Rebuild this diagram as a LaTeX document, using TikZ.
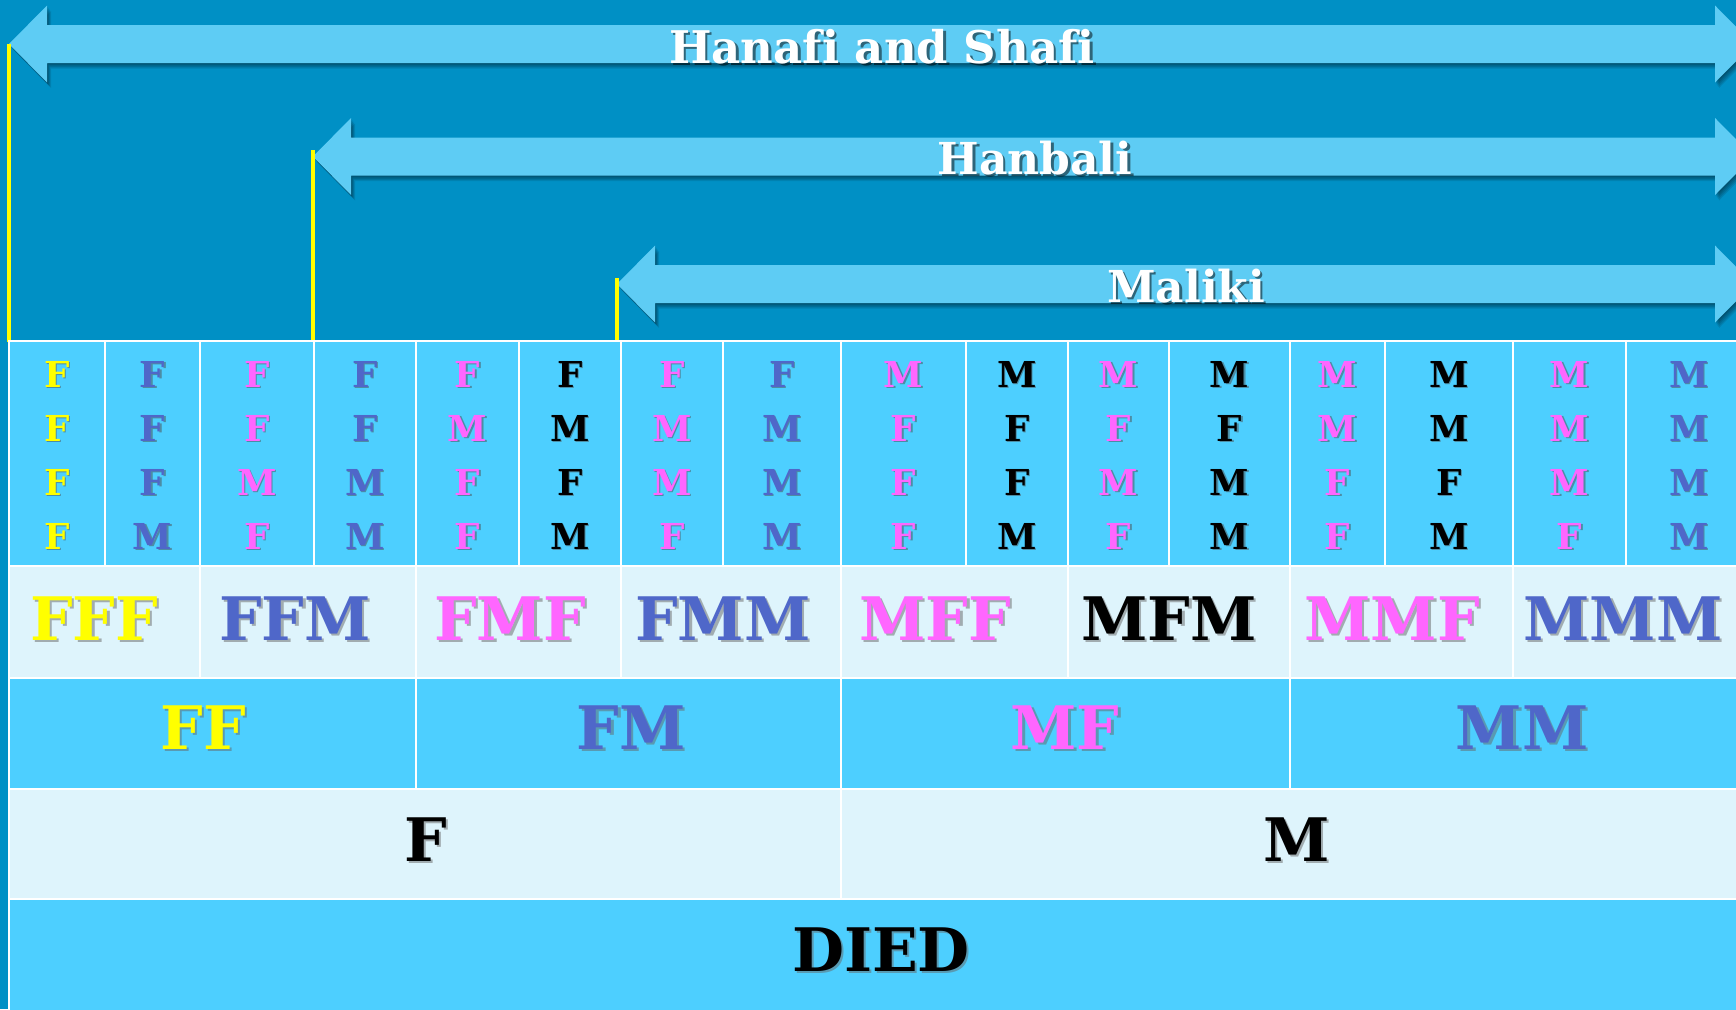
\documentclass[tikz,border=0pt]{standalone}
\usepackage{fontspec}
\setmainfont{DejaVu Serif}[Ligatures=NoCommon]
\definecolor{bgblue}{RGB}{0,144,197}
\definecolor{arrowblue}{RGB}{94,204,244}
\definecolor{cellcyan}{RGB}{77,207,255}
\definecolor{celllight}{RGB}{222,244,252}
\definecolor{lblue}{RGB}{79,103,201}
\definecolor{lmag}{RGB}{255,102,255}
\definecolor{lyel}{RGB}{255,255,0}
\tikzset{
  cellA/.style={fill=cellcyan, draw=white, line width=2.5pt},
  cellB/.style={fill=celllight, draw=white, line width=2.5pt},
  yline/.style={draw=lyel, line width=3.5pt},
  txt/.style={anchor=base, inner sep=0pt, font=\bfseries},
}
% #1 style, #2 tip x, #3 centre y
\newcommand\arrowfill[3]{%
  \fill[#1] ({#2},{#3}) -- ({#2+38},{#3-38.5}) -- ({#2+38},{#3-19}) -- (1715,{#3-19}) -- (1715,{#3-38.5}) -- (1753,{#3}) -- (1715,{#3+38.5}) -- (1715,{#3+19}) -- ({#2+38},{#3+19}) -- ({#2+38},{#3+38.5}) -- cycle;}
\newcommand\schoolarrow[2]{%
  \foreach \o in {1,...,5}{\arrowfill{black,opacity=0.1,shift={(0.8*\o,1.1*\o)}}{#1}{#2}}%
  \arrowfill{arrowblue}{#1}{#2}}
% #1 name, #2 x, #3 baseline y, #4 size, #5 colour, #6 text, #7 shadow offset, #8 shadow colour
\newcommand\stxt[8]{%
  \node[txt, font=\fontsize{#4}{#4}\selectfont\bfseries, text=#8, opacity=.5] (#1s) at ({#2+#7},{#3+#7}) {#6};
  \node[txt, font=\fontsize{#4}{#4}\selectfont\bfseries, text=#5] (#1) at (#2,#3) {#6};}
\begin{document}
\begin{tikzpicture}[x=1pt,y=-1pt]
\useasboundingbox (0,0) rectangle (1736,1009);
\clip (0,0) rectangle (1736,1009);
\fill[bgblue] (0,0) rectangle (1736,1009);

% arrows
\schoolarrow{9}{44}
\schoolarrow{313}{156.5}
\schoolarrow{617}{284}
\coordinate (tipA) at (9,44);
\coordinate (tipB) at (313,150);
\coordinate (tipC) at (617,278);
\coordinate (topA) at (9,342);
\coordinate (topB) at (313,342);
\coordinate (topC) at (617,344);
\draw[yline] (tipA) -- (topA);
\draw[yline] (tipB) -- (topB);
\draw[yline] (tipC) -- (topC);

\stxt{hs}{882}{63}{45}{white}{Hanafi and Shafi}{2.5}{black}
\stxt{hb}{1035}{174}{44}{white}{Hanbali}{2.5}{black}
\stxt{ml}{1186}{302}{44}{white}{Maliki}{2.5}{black}

% table rows
\foreach \a/\b in {9/105,105/200,200/314,314/416,416/519,519/621,621/723,723/841,841/966,966/1068,1068/1169,1169/1290,1290/1385,1385/1513,1513/1626,1626/1760}
  \draw[cellA] (\a,341) rectangle (\b,566);
\foreach \a/\b in {9/200,200/416,416/621,621/841,841/1068,1068/1290,1290/1513,1513/1760}
  \draw[cellB] (\a,566) rectangle (\b,678);
\foreach \a/\b in {9/416,416/841,841/1290,1290/1760}
  \draw[cellA] (\a,678) rectangle (\b,789);
\foreach \a/\b in {9/841,841/1760}
  \draw[cellB] (\a,789) rectangle (\b,899);
\draw[cellA] (9,899) rectangle (1760,1030);

% grid letters
\foreach \cx/\cc/\la/\lb/\lc/\ld [count=\i] in {
  57/lyel/F/F/F/F, 152.5/lblue/F/F/F/M, 257/lmag/F/F/M/F, 365/lblue/F/F/M/M,
  467.5/lmag/F/M/F/F, 570/black/F/M/F/M, 672/lmag/F/M/M/F, 782/lblue/F/M/M/M,
  903.5/lmag/M/F/F/F, 1017/black/M/F/F/M, 1118.5/lmag/M/F/M/F, 1229.5/black/M/F/M/M,
  1337.5/lmag/M/M/F/F, 1449/black/M/M/F/M, 1569.5/lmag/M/M/M/F, 1689/lblue/M/M/M/M}{
  \stxt{g\i a}{\cx}{387}{35.7}{\cc}{\la}{1.5}{black!70}
  \stxt{g\i b}{\cx}{441}{35.7}{\cc}{\lb}{1.5}{black!70}
  \stxt{g\i c}{\cx}{495}{35.7}{\cc}{\lc}{1.5}{black!70}
  \stxt{g\i d}{\cx}{549}{35.7}{\cc}{\ld}{1.5}{black!70}
}
% row 2
\foreach \cx/\cc/\t [count=\i] in {94/lyel/FFF, 295/lblue/FFM, 510/lmag/FMF, 723/lblue/FMM,
  935/lmag/MFF, 1169/black/MFM, 1392/lmag/MMF, 1623/lblue/MMM}{
  \stxt{t\i}{\cx}{640}{60}{\cc}{\t}{2.5}{black!60}
}
% row 3
\foreach \cx/\cc/\t [count=\i] in {203/lyel/FF, 631/lblue/FM, 1065/lmag/MF, 1522/lblue/MM}{
  \stxt{d\i}{\cx}{749}{60}{\cc}{\t}{2.5}{black!60}
}
% row 4
\stxt{sF}{426}{861}{60}{black}{F}{2}{black!60}
\stxt{sM}{1297}{861}{60}{black}{M}{2}{black!60}
% row 5
\stxt{died}{881}{971}{60}{black}{DIED}{2}{black!60}
\end{tikzpicture}
\end{document}
